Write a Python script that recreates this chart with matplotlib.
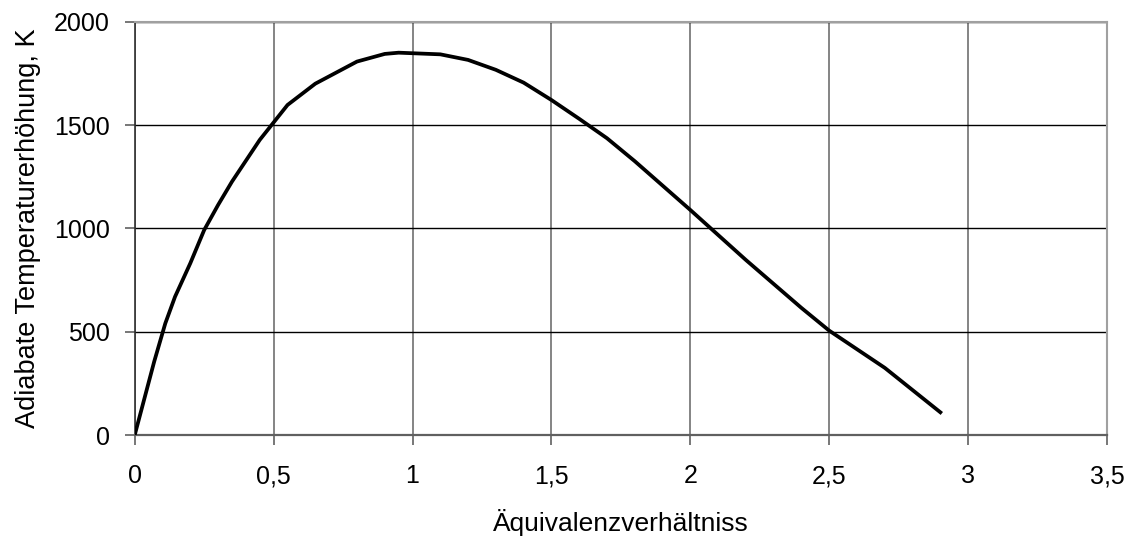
import matplotlib
matplotlib.use('Agg')
import matplotlib.pyplot as plt
from matplotlib.ticker import FuncFormatter

plt.rcParams['font.family'] = ['Liberation Sans', 'DejaVu Sans']

# equivalence ratio vs. adiabatic temperature rise
phi = [0.0, 0.07, 0.11, 0.145, 0.2, 0.25, 0.3, 0.35, 0.45, 0.55, 0.65, 0.8, 0.9, 0.95,
       1.1, 1.2, 1.3, 1.4, 1.5, 1.6, 1.7, 1.8, 2.0, 2.2, 2.4, 2.5, 2.7, 2.9]
dT = [0, 355, 540, 669, 831, 992, 1113, 1226, 1428, 1597, 1700, 1807, 1844, 1850,
      1842, 1815, 1767, 1705, 1621, 1530, 1436, 1325, 1089, 847, 615, 505, 325, 110]

x_ticks = [0, 0.5, 1, 1.5, 2, 2.5, 3, 3.5]
y_ticks = [0, 500, 1000, 1500, 2000]

fig = plt.figure(figsize=(11.36, 5.38), dpi=100)
ax = fig.add_axes([0.1186, 0.1914, 0.8559, 0.7683])

ax.plot(phi, dT, color='black', lw=2.7, solid_joinstyle='miter', zorder=3)

ax.set_xlim(0, 3.5)
ax.set_ylim(0, 2000)
ax.set_xticks(x_ticks)
ax.set_yticks(y_ticks)
ax.xaxis.set_major_formatter(FuncFormatter(lambda v, p: f"{v:g}".replace('.', ',')))

ax.grid(axis='x', color='#707070', lw=1.2)
ax.grid(axis='y', color='black', lw=1.0)
ax.set_axisbelow(True)

for s in ['top', 'right']:
    ax.spines[s].set_color('#a0a0a0')
    ax.spines[s].set_linewidth(1.5)
ax.spines['left'].set_color('#303030')
ax.spines['left'].set_linewidth(1.2)
ax.spines['bottom'].set_color('#606060')
ax.spines['bottom'].set_linewidth(1.6)

ax.tick_params(direction='out', length=7, width=1.2, color='#606060', labelsize=18)
ax.tick_params(axis='y', pad=11)
ax.tick_params(axis='x', pad=14)

ax.set_xlabel("Äquivalenzverhältniss", fontsize=19, labelpad=15)
ax.set_ylabel("Adiabate Temperaturerhöhung, K", fontsize=19.5, labelpad=9)

plt.savefig('out.png', dpi=100)
